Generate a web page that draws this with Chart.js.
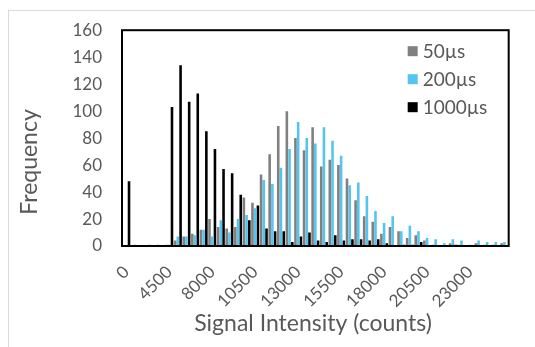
<!DOCTYPE html>
<html>
<head>
<meta charset="utf-8">
<script src="https://cdn.jsdelivr.net/npm/chart.js@4.4.1/dist/chart.umd.min.js"></script>
<style>
    html, body { margin: 0; padding: 0; background: #fff; }
</style>
</head>
<body>
<canvas id="myChart" width="535" height="347"></canvas>
<script>
// bins (only every 5th label is shown on the axis)
const binLabels = [
    '0', '1000', '2000', '3000', '4000',
    '4500', '5200', '5900', '6600', '7300',
    '8000', '8500', '9000', '9500', '10000',
    '10500', '11000', '11500', '12000', '12500',
    '13000', '13500', '14000', '14500', '15000',
    '15500', '16000', '16500', '17000', '17500',
    '18000', '18500', '19000', '19500', '20000',
    '20500', '21000', '21500', '22000', '22500',
    '23000', '23500', '24000', '24500', '25000'
];

const series50 = [
    0, 0, 0, 1, 1, 1, 4, 7, 9, 12,
    20, 14, 13, 14, 36, 32, 53, 68, 89, 100,
    80, 71, 88, 59, 64, 60, 50, 34, 22, 18,
    9, 14, 11, 6, 8, 4, 1, 0, 2, 1,
    0, 2, 1, 1, 2
];

const series200 = [
    0, 1, 0, 0, 0, 1, 7, 7, 8, 12,
    7, 19, 10, 20, 23, 28, 49, 46, 58, 72,
    92, 80, 76, 88, 78, 67, 45, 47, 37, 26,
    17, 22, 11, 15, 11, 6, 5, 2, 5, 4,
    1, 4, 3, 3, 3
];

const series1000 = [
    48, 0, 0, 0, 0, 103, 134, 107, 113, 85,
    72, 57, 54, 38, 19, 30, 13, 11, 11, 3,
    7, 10, 4, 3, 8, 4, 5, 5, 4, 5,
    2, 0, 1, 1, 3, 0, 0, 0, 1, 0,
    0, 0, 0, 0, 0
];

const yTicks = [0, 20, 40, 60, 80, 100, 120, 140, 160];

const textColor = '#595959';
const fontFamily = 'Lato, "Open Sans", sans-serif';

// frame, titles and the legend inside the plot
const chartDecor = {
    id: 'chartDecor',
    beforeDraw(chart) {
        const ctx = chart.ctx;
        ctx.save();
        ctx.strokeStyle = '#d9d9d9';
        ctx.lineWidth = 1;
        ctx.strokeRect(8.5, 10.5, 700, 700);
        ctx.restore();
    },
    afterDraw(chart) {
        const ctx = chart.ctx;
        const a = chart.chartArea;
        ctx.save();

        ctx.strokeStyle = '#000';
        ctx.lineWidth = 2;
        ctx.strokeRect(a.left, a.top, a.right - a.left, a.bottom - a.top);

        ctx.fillStyle = textColor;
        ctx.font = '23px ' + fontFamily;
        ctx.textAlign = 'center';
        ctx.textBaseline = 'middle';
        ctx.fillText('Signal Intensity (counts)', 313, 324);

        ctx.save();
        ctx.translate(30, 162);
        ctx.rotate(-Math.PI / 2);
        ctx.fillText('Frequency', 0, 0);
        ctx.restore();

        ctx.font = '19px ' + fontFamily;
        ctx.textAlign = 'left';
        chart.data.datasets.forEach(function (ds, i) {
            const y = a.top + 21 + i * 28;
            ctx.fillStyle = ds.backgroundColor;
            ctx.fillRect(a.right - 101, y - 5, 10, 10);
            ctx.fillStyle = textColor;
            ctx.fillText(ds.label, a.right - 86, y + 1);
        });

        ctx.restore();
    }
};

const ctx = document.getElementById('myChart').getContext('2d');

window.myChart = new Chart(ctx, {
    type: 'bar',
    data: {
        labels: binLabels,
        datasets: [{
            label: '50\u00b5s',
            data: series50,
            backgroundColor: '#808080'
        }, {
            label: '200\u00b5s',
            data: series200,
            backgroundColor: '#55c4ee'
        }, {
            label: '1000\u00b5s',
            data: series1000,
            backgroundColor: '#000000'
        }]
    },
    options: {
        responsive: false,
        animation: false,
        layout: {
            padding: { left: 10, right: 17, top: 23, bottom: 0 }
        },
        datasets: {
            bar: {
                categoryPercentage: 0.95,
                barPercentage: 0.95
            }
        },
        plugins: {
            legend: { display: false },
            tooltip: { enabled: false }
        },
        scales: {
            x: {
                grid: { display: false, drawTicks: false },
                border: { display: false },
                ticks: {
                    autoSkip: false,
                    minRotation: 45,
                    maxRotation: 45,
                    padding: 16,
                    color: textColor,
                    font: { family: fontFamily, size: 17 },
                    callback: function (value, index) {
                        return index % 5 === 0 ? this.getLabelForValue(value) : '';
                    }
                },
                afterFit: function (scale) { scale.height = 101; }
            },
            y: {
                min: yTicks[0],
                max: yTicks[yTicks.length - 1],
                grid: { display: false, drawTicks: false },
                border: { display: false },
                ticks: {
                    stepSize: yTicks[1] - yTicks[0],
                    padding: 20,
                    color: textColor,
                    font: { family: fontFamily, size: 17 }
                },
                afterFit: function (scale) { scale.width = 112; }
            }
        }
    },
    plugins: [chartDecor]
});
</script>
</body>
</html>
